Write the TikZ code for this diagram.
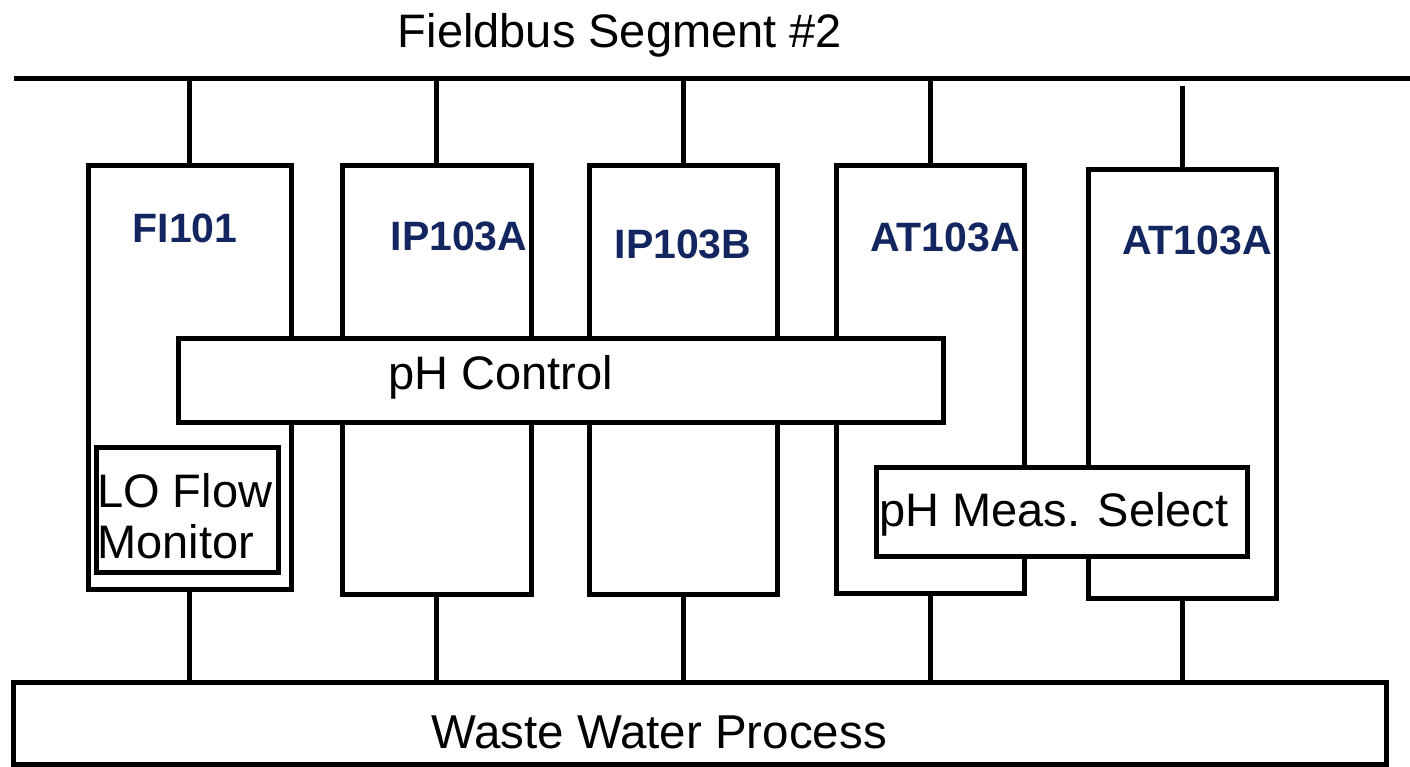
\documentclass[tikz,border=0pt]{standalone}
\usepackage{fontspec}
\setmainfont{Liberation Sans}
\definecolor{tagblue}{RGB}{20,38,96}
\begin{document}
\begin{tikzpicture}[x=1pt,y=-1pt,
  wire/.style={line width=5pt,draw=black},
  devbox/.style={draw=black,line width=5pt,fill=white,inner sep=0pt,rectangle},
  tag/.style={font=\fontsize{41}{48}\selectfont\bfseries,text=tagblue,inner sep=0pt,anchor=base},
  lbl/.style={font=\fontsize{47}{56}\selectfont,text=black,inner sep=0pt,anchor=base}]
\useasboundingbox (0,0) rectangle (1410,766);
% title and bus
\node[lbl] (title) at (620,47) {Fieldbus Segment \#2};
\coordinate (busL) at (14,78);
\coordinate (busR) at (1412,78);
\draw[wire] (busL) -- (busR);
% device boxes
\node[devbox,minimum width=203pt,minimum height=424pt] (fi)  at (189.5,377) {};
\node[devbox,minimum width=189pt,minimum height=429pt] (ipa) at (436.5,379.5) {};
\node[devbox,minimum width=188pt,minimum height=429pt] (ipb) at (683,379.5) {};
\node[devbox,minimum width=188pt,minimum height=428pt] (ata) at (930,379) {};
\node[devbox,minimum width=188pt,minimum height=429pt] (atb) at (1182,383.5) {};
% waste water process
\node[devbox,minimum width=1372.6pt,minimum height=81.5pt] (waste) at (699.7,723.25) {};
\node[lbl,font=\fontsize{47.5}{57}\selectfont] (wastet) at (659,748) {Waste Water Process};
% drops from the bus
\coordinate (atbtop) at (1182,86);
\draw[wire] (fi.north) -- (fi.north |- busL);
\draw[wire] (ipa.north) -- (ipa.north |- busL);
\draw[wire] (ipb.north) -- (ipb.north |- busL);
\draw[wire] (ata.north) -- (ata.north |- busL);
\draw[wire] (atb.north) -- (atbtop);
% drops to the process
\draw[wire] (fi.south) -- (fi.south |- waste.north);
\draw[wire] (ipa.south) -- (ipa.south |- waste.north);
\draw[wire] (ipb.south) -- (ipb.south |- waste.north);
\draw[wire] (ata.south) -- (ata.south |- waste.north);
\draw[wire] (atb.south) -- (atb.south |- waste.north);
% function blocks
\node[devbox,minimum width=765pt,minimum height=84pt] (phc) at (560.5,380) {};
\node[lbl] (phct) at (500.5,389.5) {pH Control};
\node[devbox,minimum width=182pt,minimum height=125pt] (lo) at (187.4,509.5) {};
\node[lbl,anchor=base west] (lo1) at (97,507) {LO Flow};
\node[lbl,anchor=base west] (lo2) at (97,558) {Monitor};
\node[devbox,minimum width=370.6pt,minimum height=88.8pt] (phm) at (1061.7,511.9) {};
\node[lbl] (phmt) at (1054,526) {pH Meas. Select};
% tags
\node[tag] (fit)  at (185,242) {FI101};
\node[tag] (ipat) at (459,250) {IP103A};
\node[tag] (ipbt) at (683,258) {IP103B};
\node[tag] (atat) at (945,251) {AT103A};
\node[tag] (atbt) at (1197,254.5) {AT103A};
\end{tikzpicture}
\end{document}
